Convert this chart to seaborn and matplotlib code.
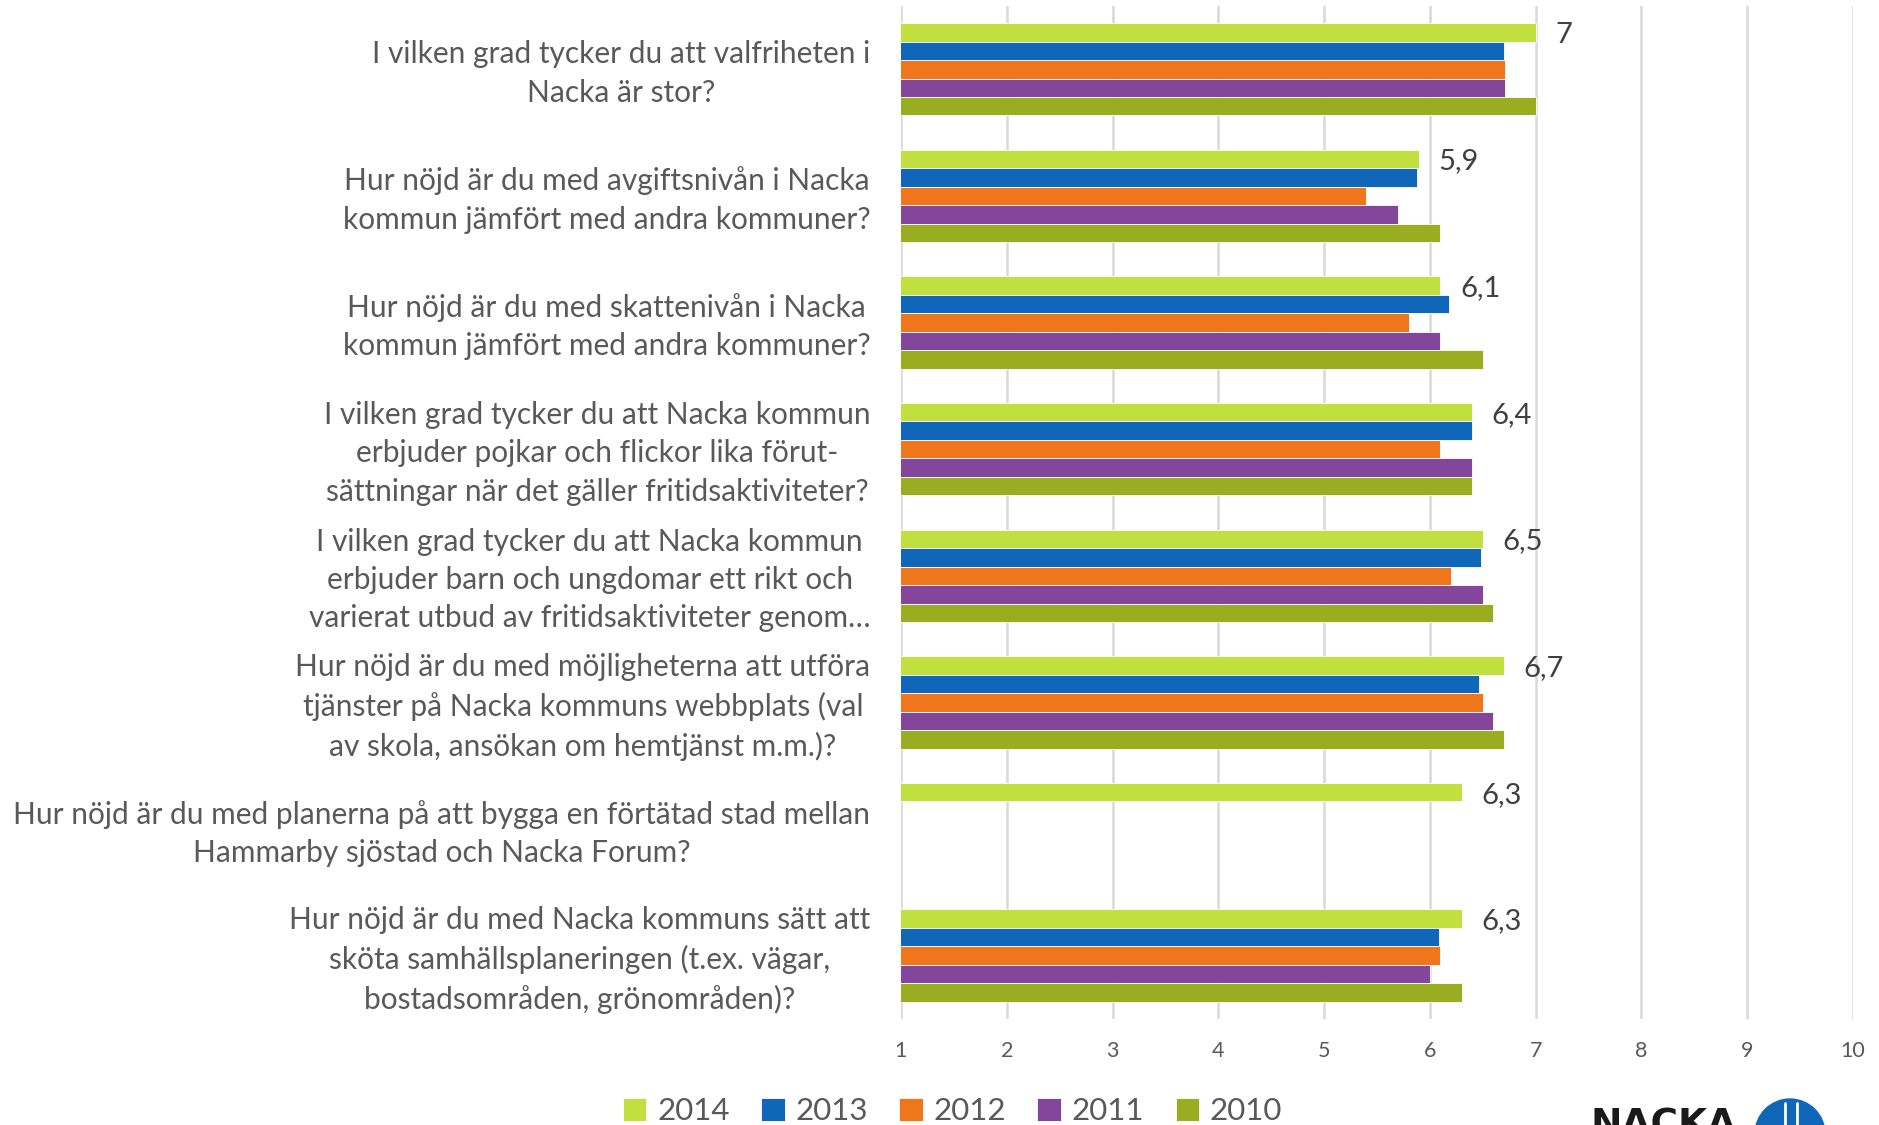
import numpy as np
import pandas as pd
import matplotlib.pyplot as plt
import matplotlib.transforms as mtransforms
import seaborn as sns
from matplotlib.patches import Circle

questions = [
    "I vilken grad tycker du att valfriheten i\nNacka är stor?",
    "Hur nöjd är du med avgiftsnivån i Nacka\nkommun jämfört med andra kommuner?",
    "Hur nöjd är du med skattenivån i Nacka\nkommun jämfört med andra kommuner?",
    "I vilken grad tycker du att Nacka kommun\nerbjuder pojkar och flickor lika förut-\nsättningar när det gäller fritidsaktiviteter?",
    "I vilken grad tycker du att Nacka kommun\nerbjuder barn och ungdomar ett rikt och\nvarierat utbud av fritidsaktiviteter genom…",
    "Hur nöjd är du med möjligheterna att utföra\ntjänster på Nacka kommuns webbplats (val\nav skola, ansökan om hemtjänst m.m.)?",
    "Hur nöjd är du med planerna på att bygga en förtätad stad mellan\nHammarby sjöstad och Nacka Forum?",
    "Hur nöjd är du med Nacka kommuns sätt att\nsköta samhällsplaneringen (t.ex. vägar,\nbostadsområden, grönområden)?",
]
years = ["2014", "2013", "2012", "2011", "2010"]
colors = ["#C1DF3F", "#1066B8", "#EF761A", "#83469B", "#99AD21"]

v2014 = [7.0, 5.9, 6.1, 6.4, 6.5, 6.7, 6.3, 6.3]
v2013 = [6.7, 5.88, 6.18, 6.4, 6.48, 6.46, np.nan, 6.09]
v2012 = [6.71, 5.4, 5.8, 6.1, 6.2, 6.5, np.nan, 6.1]
v2011 = [6.71, 5.7, 6.1, 6.4, 6.5, 6.6, np.nan, 6.0]
v2010 = [7.0, 6.1, 6.5, 6.4, 6.6, 6.7, np.nan, 6.3]
xticks = [1, 2, 3, 4, 5, 6, 7, 8, 9, 10]

series = dict(zip(years, [v2014, v2013, v2012, v2011, v2010]))
rows = []
for yr, vals in series.items():
    for q, v in zip(questions, vals):
        rows.append({"fråga": q, "år": yr, "värde": v})
df = pd.DataFrame(rows).dropna()

sns.set_style("white")
plt.rcParams["font.family"] = ["Lato", "DejaVu Sans"]
txt = "#595959"

fig = plt.figure(figsize=(18.79, 11.25), dpi=100)
ax = fig.add_axes([0.4795, 0.0942, 0.5067, 0.9005])

sns.barplot(data=df, x="värde", y="fråga", hue="år", order=questions,
            hue_order=years, palette=colors, saturation=1, orient="h", width=0.73,
            errorbar=None, edgecolor="white", linewidth=0.6, ax=ax)

ax.set_xlim(1, 10)
ax.set_xticks(xticks)
ax.set_xlabel("")
ax.set_ylabel("")
ax.set_axisbelow(True)
ax.grid(axis="x", color="#D9D9D9", linewidth=1.8)
for s in ax.spines.values():
    s.set_visible(False)
ax.tick_params(axis="x", length=0, pad=16, labelsize=15.5, labelcolor=txt)
ax.tick_params(axis="y", length=0, pad=22, labelsize=21.5, labelcolor=txt)
nudge = mtransforms.ScaledTranslation(0, 3.5 / 100, fig.dpi_scale_trans)
for lab in ax.get_yticklabels():
    lab.set_multialignment("center")
    lab.set_linespacing(1.45)
    lab.set_transform(lab.get_transform() + nudge)

labels = [("%g" % v).replace(".", ",") for v in v2014]
vals_txt = ax.bar_label(ax.containers[0], labels=labels, padding=14, fontsize=21,
                        color="#404040")
for t in vals_txt:
    t.set_va("center_baseline")

handles, leg_labels = ax.get_legend_handles_labels()
ax.get_legend().remove()
fig.legend(handles, leg_labels, loc="center", bbox_to_anchor=(0.507, 0.012), ncol=5,
           frameon=False, fontsize=22.5, handlelength=0.75, handleheight=0.75,
           handletextpad=0.35, columnspacing=1.0, labelcolor=txt)

# logo, cut off at the bottom edge like in the original
fig.text(1591 / 1879, 1 - 1108 / 1125, "NACKA", family="DejaVu Sans", fontweight="bold",
         fontsize=27, color="#1a1a1a", ha="left", va="top")
fig.add_artist(Circle((17.90, -0.09), 0.35, color="#1066B8", transform=fig.dpi_scale_trans))
for xi in (17.85, 17.97):
    fig.add_artist(plt.Line2D([xi, xi], [-0.1, 0.22], color="white", linewidth=2,
                              transform=fig.dpi_scale_trans))

fig.savefig("out.png", dpi=100)
